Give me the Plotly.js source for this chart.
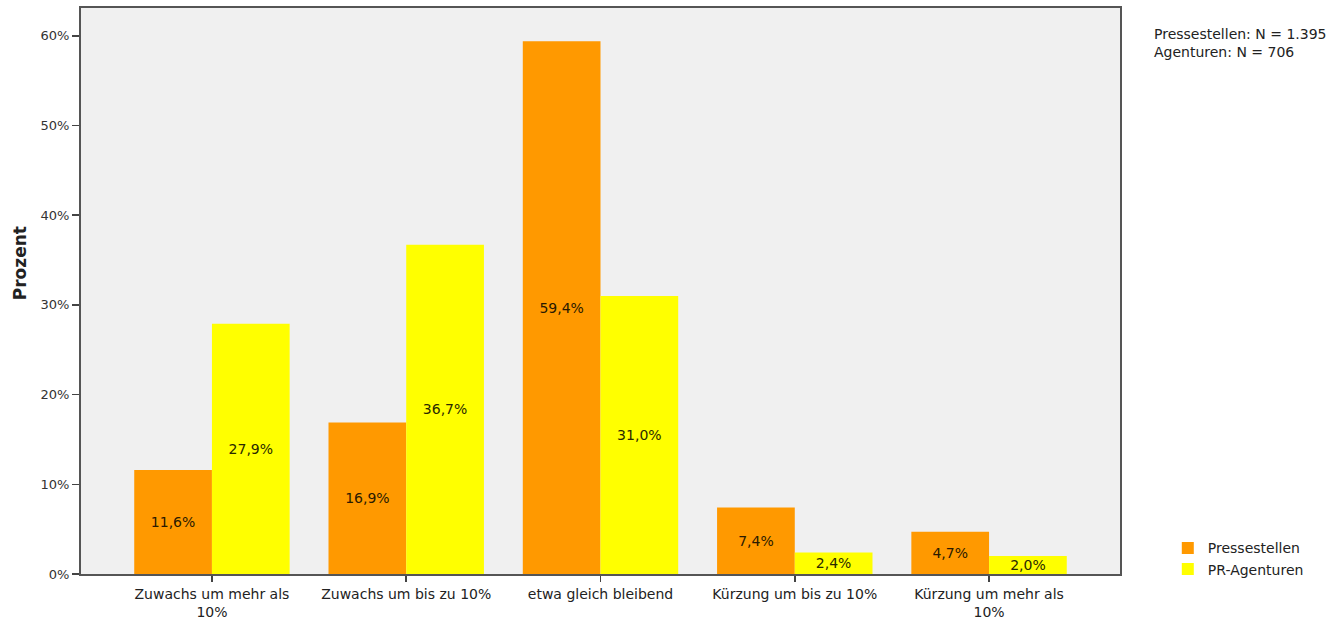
<!DOCTYPE html>
<html>
<head>
<meta charset="utf-8">
<script src="https://cdn.plot.ly/plotly-3.0.1.min.js"></script>
<style>html,body{margin:0;padding:0;background:#fff;}#chart{width:1336px;height:619px;}</style>
</head>
<body>
<div id="chart"></div>
<script>
const categories = ["Zuwachs um mehr als<br>10%", "Zuwachs um bis zu 10%", "etwa gleich bleibend", "Kürzung um bis zu 10%", "Kürzung um mehr als<br>10%"];
const pressestellen = [11.6, 16.9, 59.4, 7.4, 4.7];
const agenturen = [27.9, 36.7, 31.0, 2.4, 2.0];
const seriesNames = ["Pressestellen", "PR-Agenturen"];
const yTickVals = [0, 10, 20, 30, 40, 50, 60];
const yTickText = ["0%", "10%", "20%", "30%", "40%", "50%", "60%"];
const noteText = "Pressestellen: N = 1.395<br>Agenturen: N = 706";
const yTitle = "Prozent";

function fmt(v){ return v.toFixed(1).replace('.', ',') + '%'; }

const font = "DejaVu Sans, Verdana, sans-serif";

const traces = [
  {type:'bar', name:seriesNames[0], x:categories, y:pressestellen,
   text:pressestellen.map(fmt), textposition:'inside', insidetextanchor:'middle',
   textfont:{family:font, size:14, color:'#2a1a00'}, constraintext:'none',
   marker:{color:'#FF9900'}, hoverinfo:'none'},
  {type:'bar', name:seriesNames[1], x:categories, y:agenturen,
   text:agenturen.map(fmt), textposition:'inside', insidetextanchor:'middle',
   textfont:{family:font, size:14, color:'#2a2a00'}, constraintext:'none',
   marker:{color:'#FFFF00'}, hoverinfo:'none'}
];

const layout = {
  width:1336, height:619,
  margin:{l:81, r:216, t:8, b:45},
  paper_bgcolor:'#ffffff', plot_bgcolor:'#F0F0F0',
  font:{family:font, size:14, color:'#222'},
  barmode:'group', bargap:0.2, bargroupgap:0,
  xaxis:{type:'category', range:[-0.674, 4.674], showline:true, mirror:true,
         linecolor:'#555', linewidth:2, ticks:'outside', ticklen:6, tickcolor:'#444', tickwidth:1.5,
         tickfont:{family:font, size:14, color:'#222'}, showgrid:false, zeroline:false},
  yaxis:{range:[0, 63.1], tickvals:yTickVals, ticktext:yTickText, showline:true, mirror:true,
         linecolor:'#555', linewidth:2, ticks:'outside', ticklen:7, tickcolor:'#444', tickwidth:1.5,
         tickfont:{family:font, size:13, color:'#333'}, showgrid:false, zeroline:false},
  legend:{x:1.046, xanchor:'left', y:-0.02, yanchor:'bottom', bgcolor:'rgba(0,0,0,0)',
          font:{family:font, size:14, color:'#222'}, tracegroupgap:0, itemwidth:30},
  annotations:[
    {xref:'paper', yref:'paper', x:1.031, y:0.972, xanchor:'left', yanchor:'top',
     align:'left', showarrow:false, text:noteText,
     font:{family:font, size:14, color:'#222'}},
    {xref:'paper', yref:'paper', x:-0.0587, y:0.549, xanchor:'center', yanchor:'middle',
     textangle:-90, showarrow:false, text:'<b>'+yTitle+'</b>',
     font:{family:font, size:17, color:'#222'}}
  ]
};

Plotly.newPlot('chart', traces, layout, {displayModeBar:false, staticPlot:true});
</script>
</body>
</html>
